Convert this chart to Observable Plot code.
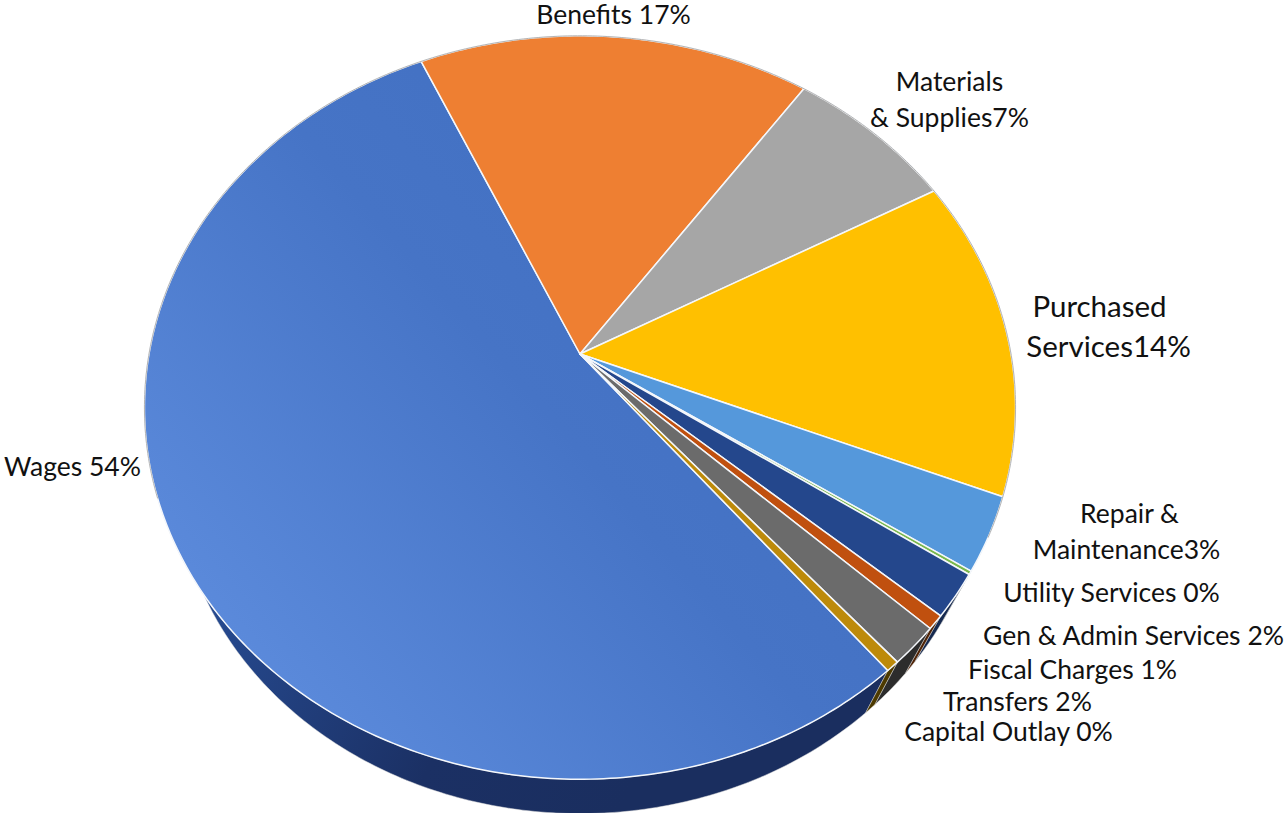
<!DOCTYPE html>
<html>
<head>
<meta charset="utf-8">
<style>
  html, body { margin: 0; padding: 0; background: #fff; }
  svg { display: block; }
</style>
<script src="https://cdn.jsdelivr.net/npm/d3@7"></script>
<script src="https://cdn.jsdelivr.net/npm/@observablehq/plot@0.6"></script>
</head>
<body>
<div id="chart"></div>
<script>
// Budget shares by expense category, in percent
const categories = ["Wages", "Benefits", "Materials & Supplies", "Purchased Services", "Repair & Maintenance",
  "Utility Services", "Gen & Admin Services", "Fiscal Charges", "Transfers", "Capital Outlay"];
const shares = [54.1, 16.7, 7.2, 14.0, 3.2, 0.15, 1.9, 0.6, 1.7, 0.45];

const faceColors = ["url(#wagesFace)", "#ee7f32", "#a6a6a6", "#ffc000", "#5598db",
  "#79b84c", "#24478c", "#c0500f", "#6b6b6b", "#bd8a0a"];
const sideColors = ["url(#wagesSide)", "#77401a", "#555555", "#7f6000", "#2e4e6b",
  "#3a5a24", "#16294f", "#4f2407", "#2c2c2c", "#4d3a00"];

// Label text, one row per printed line
const labelLines = ["Wages 54%", "Benefits 17%", "Materials", "& Supplies7%", "Purchased", "Services14%",
  "Repair &", "Maintenance3%", "Utility Services 0%", "Gen & Admin Services 2%", "Fiscal Charges 1%",
  "Transfers 2%", "Capital Outlay 0%"];
const labelX = [72, 613, 949, 949, 1099, 1108, 1129, 1126, 1111, 1133, 1072, 1017, 1008];
const labelY = [467, 15, 82, 118, 307, 347, 514, 550, 593, 636, 670, 702, 732];
const labelSize = [26.5, 26.5, 26.5, 26.5, 29.5, 29.5, 26.5, 26.5, 26.5, 26.5, 26.5, 26.5, 26.5];

// Tilted disc seen in perspective
const apex = {x: 579.5, y: 353.5};
const radiusX = 431, radiusY = 364, recede = 0.144;
// The underside of the disc is the top face scaled about a point below the apex
const base = {x: 579.5, y: 418.5, scale: 0.928};
const firstSliceAngle = 140.6;

const rimPoint = (deg) => {
  const a = deg * Math.PI / 180, X = Math.sin(a), Y = Math.cos(a), w = 1 + recede * Y;
  return [apex.x + radiusX * X / w, apex.y - radiusY * Y / w];
};
const basePoint = (deg) => {
  const [x, y] = rimPoint(deg);
  return [base.x + base.scale * (x - apex.x), base.y + base.scale * (y - apex.y)];
};
const arc = (f, a0, a1) => {
  const n = Math.max(2, Math.ceil(Math.abs(a1 - a0) / 0.75));
  return d3.range(n + 1).map((i) => f(a0 + (a1 - a0) * i / n));
};

const arcs = d3.pie().sort(null)
  .startAngle(firstSliceAngle * Math.PI / 180)
  .endAngle((firstSliceAngle + 360) * Math.PI / 180)(shares);
const deg = (r) => r * 180 / Math.PI;

const polygon = (ring, props) => ({type: "Feature", properties: props,
  geometry: {type: "Polygon", coordinates: [[...ring, ring[0]]]}});

const faces = arcs.map((d, i) => polygon(
  [[apex.x, apex.y], ...arc(rimPoint, deg(d.startAngle), deg(d.endAngle))],
  {fill: faceColors[i]}));
const sides = arcs.map((d, i) => polygon(
  [...arc(rimPoint, deg(d.startAngle), deg(d.endAngle)), ...arc(basePoint, deg(d.endAngle), deg(d.startAngle))],
  {fill: sideColors[i]}));

// Grey hairline around the far half of the rim
const farRim = {type: "LineString", coordinates: arc(rimPoint, -112, 118)};

const gradients = () => {
  const defs = d3.create("svg:defs");
  const add = (id, x1, y1, x2, y2, stops) => {
    const g = defs.append("linearGradient").attr("id", id).attr("gradientUnits", "userSpaceOnUse")
      .attr("x1", x1).attr("y1", y1).attr("x2", x2).attr("y2", y2);
    stops.forEach(([o, c]) => g.append("stop").attr("offset", o).attr("stop-color", c));
  };
  add("wagesFace", 230, 640, 620, 300, [[0, "#5b8adb"], [0.75, "#4674c6"], [1, "#4472c4"]]);
  add("wagesSide", 190, 600, 620, 810, [[0, "#274c93"], [0.6, "#1b3064"], [1, "#1a2e5f"]]);
  return defs.node();
};

const labels = labelLines.map((text, i) => ({text, x: labelX[i], y: labelY[i], size: labelSize[i]}));

const chart = Plot.plot({
  width: 1288,
  height: 813,
  margin: 0,
  style: {background: "#fff"},
  x: {domain: [0, 1288], range: [0, 1288], axis: null},
  y: {domain: [0, 813], range: [0, 813], axis: null},
  color: {type: "identity"},
  marks: [
    gradients,
    Plot.geo(sides, {fill: (d) => d.properties.fill, stroke: "#d9d9d9", strokeWidth: 0.5}),
    Plot.geo(faces, {fill: (d) => d.properties.fill, stroke: "#f4f7fb", strokeWidth: 1.5, strokeLinejoin: "round"}),
    Plot.geo([farRim], {fill: "none", stroke: "#b4b4b4", strokeWidth: 1}),
    Plot.text(labels, {x: "x", y: "y", text: "text", fontSize: "size", fill: "#111", textAnchor: "middle",
      fontFamily: "Lato, 'Open Sans', sans-serif"})
  ]
});
document.getElementById("chart").append(chart);
</script>
</body>
</html>
